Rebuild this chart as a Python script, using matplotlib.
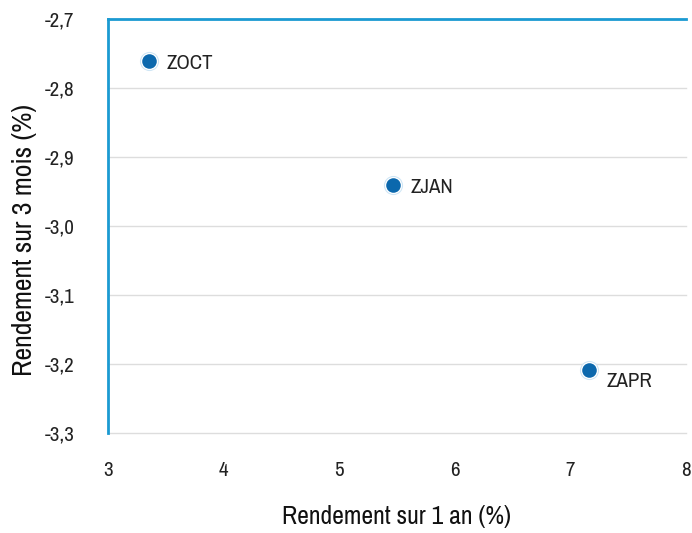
import matplotlib
matplotlib.use("Agg")
import matplotlib.pyplot as plt
from matplotlib import font_manager

fonts = font_manager.fontManager.ttflist
narrow = [f for f in fonts if "Narrow" in f.name or "Condensed" in f.name]
if narrow:
    plt.rcParams['font.family'] = [narrow[0].name, "DejaVu Sans"]
    stretch = 'normal'
else:
    plt.rcParams['font.family'] = ["DejaVu Sans"]
    stretch = 'condensed'
plt.rcParams['font.stretch'] = stretch

labels = ["ZOCT", "ZJAN", "ZAPR"]
x_vals = [3.355, 5.465, 7.16]
y_vals = [-2.761, -2.94, -3.209]
x_ticks = [3, 4, 5, 6, 7, 8]
y_ticks = [-3.3, -3.2, -3.1, -3.0, -2.9, -2.8, -2.7]
label_offsets = [(13, -2), (13, -2), (13, -8)]

fig = plt.figure(figsize=(6.92, 5.33), dpi=100)
ax = fig.add_axes([108/692, 1 - 433/533, (686-108)/692, (433-19)/533])

ax.set_xlim(3, 8)
ax.set_ylim(-3.3, -2.7)
ax.set_xticks(x_ticks)
ax.set_yticks(y_ticks)
ax.set_xticklabels([str(v) for v in x_ticks])
ax.set_yticklabels([f"{v:.1f}".replace(".", ",") for v in y_ticks])
ax.grid(axis='y', color='#dddddd', linewidth=1)
for gl in ax.get_ygridlines():
    gl.set_clip_on(False)
ax.set_axisbelow(True)
ax.tick_params(length=0, labelsize=15, colors='#222222')
ax.tick_params(axis='x', pad=20)
ax.tick_params(axis='y', pad=24)

blue = '#1b9ad2'
for s in ['right', 'bottom']:
    ax.spines[s].set_visible(False)
for s in ['left', 'top']:
    ax.spines[s].set_color(blue)
    ax.spines[s].set_linewidth(2)

ax.scatter(x_vals, y_vals, s=190, color='#cfe6f5', zorder=3, linewidths=0)
ax.scatter(x_vals, y_vals, s=150, color='white', zorder=3, linewidths=0)
ax.scatter(x_vals, y_vals, s=110, color='#0b68ad', zorder=4, linewidths=0)

for lx, ly, lab, off in zip(x_vals, y_vals, labels, label_offsets):
    ax.annotate(lab, (lx, ly), xytext=off, textcoords='offset points',
                fontsize=15, color='#222222', va='center', ha='left')

ax.set_xlabel("Rendement sur 1 an (%)", fontsize=18.5, color='#111111',
              labelpad=18, fontweight='bold')
ax.set_ylabel("Rendement sur 3 mois (%)", fontsize=20, color='#111111',
              fontweight='bold', va='center')
ax.yaxis.set_label_coords(-0.145, 0.465)

fig.savefig("out.png", dpi=100)
